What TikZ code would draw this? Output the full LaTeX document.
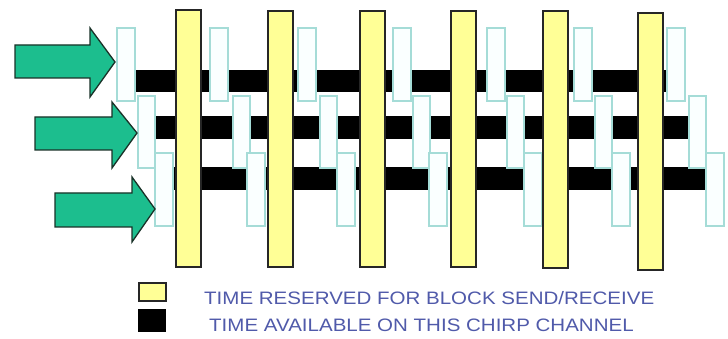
\documentclass[tikz,border=0pt]{standalone}
\usepackage{fontspec}
\setmainfont{Liberation Sans}
\definecolor{arrowgreen}{RGB}{28,190,142}
\definecolor{arrowedge}{RGB}{25,50,40}
\definecolor{slotedge}{RGB}{165,220,215}
\definecolor{slotfill}{RGB}{250,255,255}
\definecolor{resyellow}{RGB}{255,255,150}
\definecolor{legendblue}{RGB}{80,90,170}
\tikzset{
  chanbar/.style={fill=black,draw=none},
  slotbox/.style={draw=slotedge,fill=slotfill,line width=1.2pt},
  resbar/.style={draw=black!85,fill=resyellow,line width=1.5pt},
  greenarrow/.style={draw=arrowedge,fill=arrowgreen,line width=1.3pt,line join=miter},
  legendtext/.style={text=legendblue,font=\fontsize{18}{18}\selectfont,inner sep=0pt,anchor=base west}
}
\newcommand{\blockarrow}[8]{% left, top, bottom, headx, headtop, headbottom, tipx, tipy
  \draw[greenarrow] (#1,#2) -- (#4,#2) -- (#4,#5) -- (#7,#8) -- (#4,#6) -- (#4,#3) -- (#1,#3) -- cycle;}
\begin{document}
\begin{tikzpicture}[x=1pt,y=-1pt]
\useasboundingbox (0,0) rectangle (728,339);
\fill[white] (0,0) rectangle (728,339);
% channel rows
\fill[chanbar] (135,70) rectangle (670,92);
\fill[chanbar] (155,116) rectangle (692,139);
\fill[chanbar] (172,167) rectangle (709,190);
% slot boxes
\foreach \x in {117,210,298,393,487,574,667}
  \draw[slotbox] (\x,28) rectangle ++(18,73);
\foreach \x in {138,233,320,413,507,595,689}
  \draw[slotbox] (\x,96) rectangle ++(17,72);
\foreach \x in {155,247,337,429,524,612,706}
  \draw[slotbox] (\x,153) rectangle ++(18,73);
% reserved bars
\foreach \x/\t/\b in {176/10/267,268/11/267,360/11/267,451/11/267,543/11/268,638/13/270}
  \draw[resbar] (\x,\t) rectangle (\x+25,\b);
% arrows
\blockarrow{15}{45}{78}{90}{28}{97}{115}{62}
\blockarrow{35}{117}{150}{112}{102}{168}{137}{133}
\blockarrow{55}{193}{227}{132}{177}{242}{155}{209}
% legend
\draw[resbar,line width=1.2pt] (139,283) rectangle (166,301);
\fill[black] (138,309) rectangle (166,332);
\node[legendtext] (lgres) at (204,304) {\scalebox{1.14}[1]{TIME RESERVED FOR BLOCK SEND/RECEIVE}};
\node[legendtext] (lgavail) at (209,331) {\scalebox{1.14}[1]{TIME AVAILABLE ON THIS CHIRP CHANNEL}};
\end{tikzpicture}
\end{document}
